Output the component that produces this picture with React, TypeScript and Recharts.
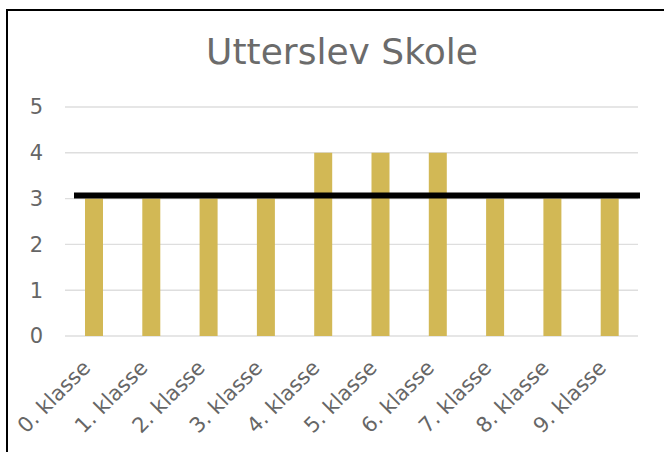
import { Bar, BarChart, CartesianGrid, ReferenceLine, XAxis, YAxis } from "recharts";

const classes = [
  "0. klasse",
  "1. klasse",
  "2. klasse",
  "3. klasse",
  "4. klasse",
  "5. klasse",
  "6. klasse",
  "7. klasse",
  "8. klasse",
  "9. klasse",
];
const scores = [3, 3, 3, 3, 4, 4, 4, 3, 3, 3];
const average = 3.07;
const yTicks = [0, 1, 2, 3, 4, 5];

const data = classes.map((name, i) => ({ name, score: scores[i] }));

const FONT = "'DejaVu Sans', sans-serif";
const GREY = "#666666";

function ClassTick(props: any) {
  const { x, y, payload } = props;
  const tx = x - 2;
  const ty = y + 25;
  return (
    <text
      x={tx}
      y={ty}
      transform={`rotate(-45, ${tx}, ${ty})`}
      textAnchor="end"
      fill={GREY}
      fontSize={21}
      fontFamily={FONT}
    >
      {payload.value}
    </text>
  );
}

function AverageLine(props: any) {
  const { x1, x2, y1 } = props;
  return <line x1={x1 + 9} x2={x2 + 2} y1={y1} y2={y1} stroke="#000" strokeWidth={6} />;
}

export default function App() {
  return (
    <div style={{ position: "absolute", left: 0, top: 0, width: 664, height: 452, overflow: "hidden", background: "#fff" }}>
      <div
        style={{
          position: "absolute",
          left: 6,
          top: 9,
          width: 720,
          height: 520,
          border: "2px solid #000",
          boxSizing: "border-box",
        }}
      />
      <svg width={664} height={452} style={{ position: "absolute", left: 0, top: 0 }}>
        <text x={342} y={64} textAnchor="middle" fill="#6b6b6b" fontSize={36} fontFamily={FONT}>
          Utterslev Skole
        </text>
      </svg>
      <div style={{ position: "absolute", left: 0, top: 0 }}>
        <BarChart width={664} height={452} data={data} margin={{ top: 107, right: 26, left: 0, bottom: 0 }}>
          <CartesianGrid horizontal vertical={false} stroke="#dedede" strokeWidth={1.4} />
          <XAxis
            dataKey="name"
            axisLine={false}
            tickLine={false}
            height={116}
            interval={0}
            tick={<ClassTick />}
          />
          <YAxis
            domain={[0, 5]}
            ticks={yTicks}
            width={65}
            axisLine={false}
            tickLine={false}
            tickMargin={16}
            tick={{ fontSize: 21, fill: GREY, fontFamily: FONT }}
          />
          <Bar dataKey="score" fill="#D2B855" barSize={18} isAnimationActive={false} />
          <ReferenceLine y={average} shape={<AverageLine />} />
        </BarChart>
      </div>
    </div>
  );
}
